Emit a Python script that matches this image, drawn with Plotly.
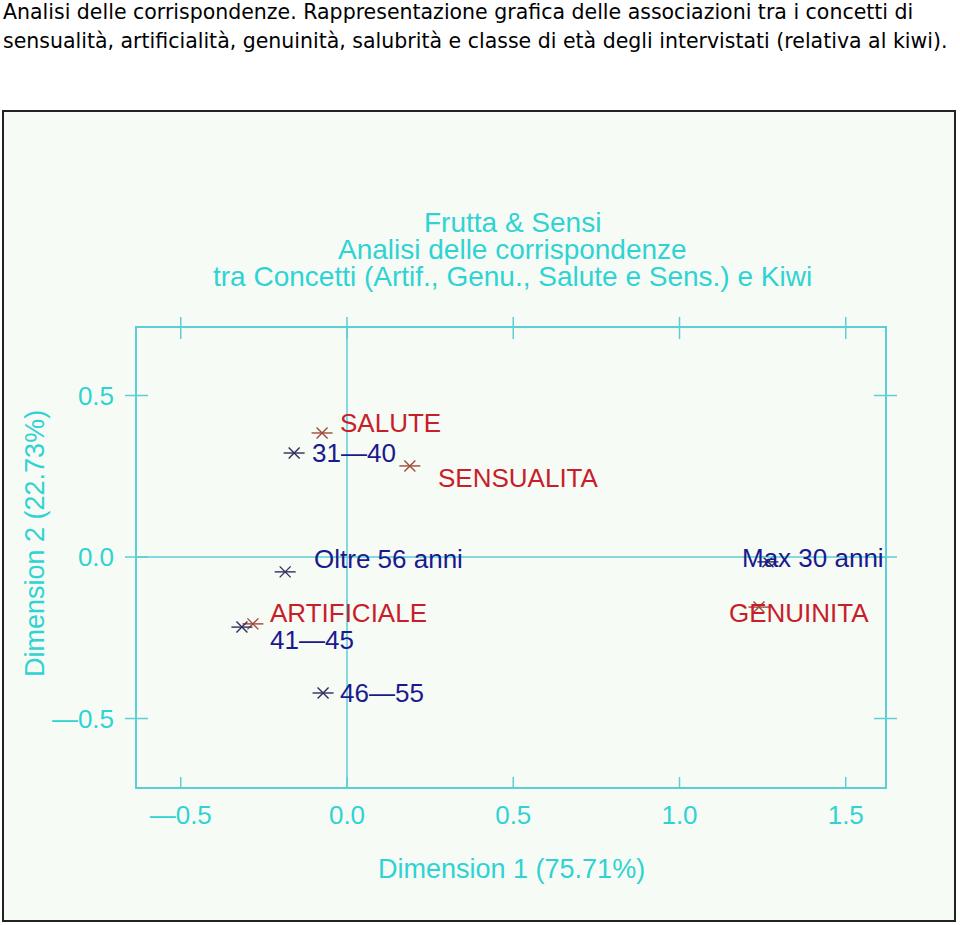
import plotly.graph_objects as go

# ---------------- data ----------------
concepts = ["SALUTE", "SENSUALITA", "ARTIFICIALE", "GENUINITA"]
concept_x = [-0.075, 0.189, -0.283, 1.239]
concept_y = [0.384, 0.282, -0.207, -0.155]

ages = ["31—40", "Oltre 56 anni", "41—45", "46—55", "Max 30 anni"]
age_x = [-0.159, -0.186, -0.316, -0.072, 1.266]
age_y = [0.322, -0.046, -0.217, -0.421, -0.015]

x_tickvals = [-0.5, 0.0, 0.5, 1.0, 1.5]
x_ticktext = ["—0.5", "0.0", "0.5", "1.0", "1.5"]
y_tickvals = [-0.5, 0.0, 0.5]
y_ticktext = ["—0.5", "0.0", "0.5"]

caption_lines = [
    "Analisi delle corrispondenze. Rappresentazione grafica delle associazioni tra i concetti di",
    "sensualità, artificialità, genuinità, salubrità e classe di età degli intervistati (relativa al kiwi).",
]
title_lines = [
    "Frutta & Sensi",
    "Analisi delle corrispondenze",
    "tra Concetti (Artif., Genu., Salute e Sens.) e Kiwi",
]
x_title = "Dimension 1 (75.71%)"
y_title = "Dimension 2 (22.73%)"

# ---------------- styles ----------------
# label offsets in pixels (xshift, yshift) relative to each point
concept_offsets = [(16, 10), (26, -12), (15, 11), (-32, -6)]
age_offsets = [(16, 0), (27, 13), (26, -13), (15, 0), (-28, 4)]

W, H = 960, 925
L, R, T, B = 137, 885, 328, 787  # plot area in pixels
CYAN_TXT = "#2fd3d3"
CYAN_LINE = "#5ccfd6"
RED_TXT = "#c81e2a"
BLUE_TXT = "#1a1a8e"
RED_STAR = "#a04a3a"
BLUE_STAR = "#2e2e5e"
FONT = "Liberation Sans, Arial, sans-serif"
CAP_FONT = "DejaVu Sans, Verdana, sans-serif"


def px_x(p):
    return (p - L) / (R - L)


def px_y(p):
    return (B - p) / (B - T)


fig = go.Figure()

# star markers: x-thin + horizontal bar gives a 6-armed asterisk
for xs, ys, col in [(concept_x, concept_y, RED_STAR), (age_x, age_y, BLUE_STAR)]:
    fig.add_trace(go.Scatter(x=xs, y=ys, mode="markers", hoverinfo="skip",
                             marker=dict(symbol="x-thin-open", size=11, color=col,
                                         line=dict(color=col, width=1.4)),
                             showlegend=False))
    fig.add_trace(go.Scatter(x=xs, y=ys, mode="markers", hoverinfo="skip",
                             marker=dict(symbol="line-ew-open", size=15, color=col,
                                         line=dict(color=col, width=1.4)),
                             showlegend=False))

annotations = []
for names, xs, ys, offs, col in [
    (concepts, concept_x, concept_y, concept_offsets, RED_TXT),
    (ages, age_x, age_y, age_offsets, BLUE_TXT),
]:
    for n, xv, yv, (dx, dy) in zip(names, xs, ys, offs):
        annotations.append(dict(x=xv, y=yv, xref="x", yref="y", text=n,
                                showarrow=False, xanchor="left", yanchor="middle",
                                xshift=dx, yshift=dy,
                                font=dict(family=FONT, size=26, color=col)))

# caption above the picture
for i, line in enumerate(caption_lines):
    annotations.append(dict(x=px_x(1), y=px_y(12 + 28.5 * i), xref="paper", yref="paper",
                            text=line, showarrow=False, xanchor="left", yanchor="middle",
                            font=dict(family=CAP_FONT, size=20.5, color="#000000")))

# chart titles
for i, line in enumerate(title_lines):
    annotations.append(dict(x=px_x(512), y=px_y(222 + 27 * i), xref="paper", yref="paper",
                            text=line, showarrow=False, xanchor="center", yanchor="middle",
                            font=dict(family=FONT, size=28, color=CYAN_TXT)))

annotations.append(dict(x=px_x(511), y=px_y(869), xref="paper", yref="paper", text=x_title,
                        showarrow=False, xanchor="center", yanchor="middle",
                        font=dict(family=FONT, size=27, color=CYAN_TXT)))
annotations.append(dict(x=px_x(35), y=px_y(544), xref="paper", yref="paper", text=y_title,
                        showarrow=False, xanchor="center", yanchor="middle", textangle=-90,
                        font=dict(family=FONT, size=27, color=CYAN_TXT)))

shapes = [
    # picture frame
    dict(type="rect", xref="paper", yref="paper", x0=px_x(3), x1=px_x(955),
         y0=px_y(921), y1=px_y(111), line=dict(color="#222222", width=2),
         fillcolor="#f7fbf5", layer="below"),
    # reference lines
    dict(type="line", xref="x", yref="paper", x0=0, x1=0, y0=0, y1=1,
         line=dict(color=CYAN_LINE, width=1.5)),
    dict(type="line", xref="paper", yref="y", x0=0, x1=1, y0=0, y1=0,
         line=dict(color=CYAN_LINE, width=1.5)),
]
for tv in x_tickvals:
    shapes.append(dict(type="line", xref="x", yref="paper", ysizemode="pixel", yanchor=0,
                       x0=tv, x1=tv, y0=-1, y1=10, line=dict(color=CYAN_LINE, width=1.5)))
    shapes.append(dict(type="line", xref="x", yref="paper", ysizemode="pixel", yanchor=1,
                       x0=tv, x1=tv, y0=-11, y1=11, line=dict(color=CYAN_LINE, width=1.5)))
for tv in y_tickvals:
    shapes.append(dict(type="line", xref="paper", yref="y", xsizemode="pixel", xanchor=0,
                       x0=-12, x1=11, y0=tv, y1=tv, line=dict(color=CYAN_LINE, width=1.5)))
    shapes.append(dict(type="line", xref="paper", yref="y", xsizemode="pixel", xanchor=1,
                       x0=-11, x1=12, y0=tv, y1=tv, line=dict(color=CYAN_LINE, width=1.5)))

fig.update_layout(
    width=W, height=H,
    margin=dict(l=L, r=W - R, t=T, b=H - B, pad=0),
    paper_bgcolor="#ffffff",
    plot_bgcolor="rgba(0,0,0,0)",
    showlegend=False,
    annotations=annotations,
    shapes=shapes,
    xaxis=dict(range=[-0.6316, 1.618], showgrid=False, zeroline=False,
               showline=True, mirror=True, linecolor=CYAN_LINE, linewidth=1.5,
               ticks="", tickmode="array", tickvals=x_tickvals, ticktext=x_ticktext,
               ticklabelstandoff=4,
               tickfont=dict(family=FONT, size=26, color=CYAN_TXT)),
    yaxis=dict(range=[-0.712, 0.709], showgrid=False, zeroline=False,
               showline=True, mirror=True, linecolor=CYAN_LINE, linewidth=1.5,
               ticks="", tickmode="array", tickvals=y_tickvals, ticktext=y_ticktext,
               ticklabelstandoff=16,
               tickfont=dict(family=FONT, size=26, color=CYAN_TXT)),
)

fig.write_html("out.html")
